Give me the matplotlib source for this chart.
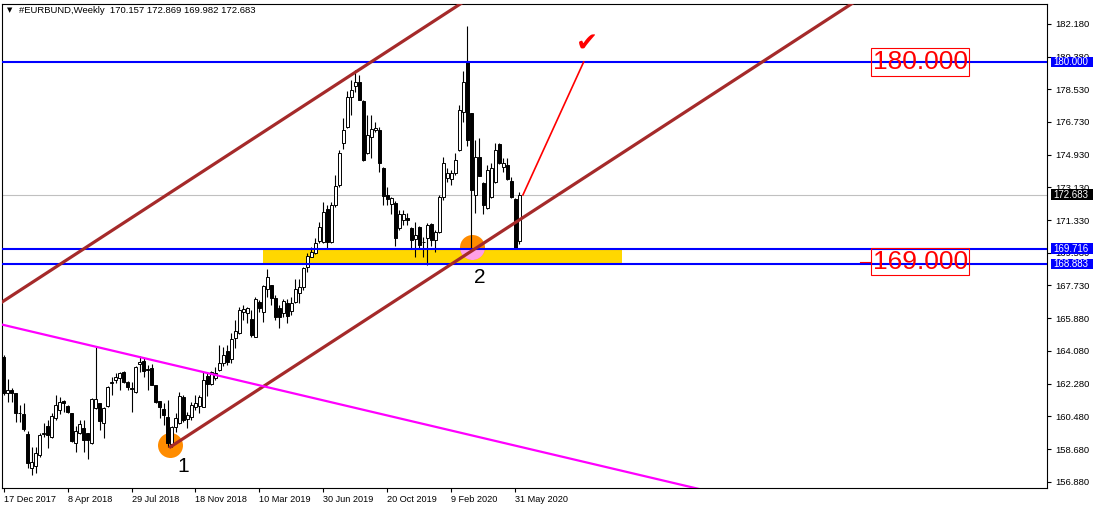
import matplotlib
matplotlib.use("Agg")
import matplotlib.pyplot as plt
import matplotlib.transforms as mtransforms
from matplotlib.patches import Rectangle

# weekly bars, first one is 17 Dec 2017, last one 7 Jun 2020
opens = [163.76, 161.78, 161.94, 161.78, 160.68, 160.62, 159.52, 157.65, 157.76, 158.37,
         159.50, 159.96, 159.36, 160.40, 160.84, 161.34, 161.06, 160.68, 159.03, 159.58,
         159.85, 159.58, 159.03, 160.95, 161.23, 160.13, 161.06, 162.33, 162.50, 162.60,
         162.94, 162.39, 162.05, 161.83, 163.38, 163.54, 163.12, 163.16, 162.22, 161.34,
         160.90, 160.46, 158.97, 159.91, 160.13, 161.56, 160.35, 160.46, 161.01, 161.06,
         161.01, 162.72, 162.28, 162.60, 163.05, 163.43, 164.09, 163.65, 164.80, 165.08,
         166.24, 166.18, 165.85, 164.86, 166.79, 166.24, 167.50, 167.73, 167.01, 166.46,
         166.18, 166.73, 166.29, 166.79, 167.28, 167.61, 168.71, 169.27, 169.49, 170.15,
         170.09, 171.91, 170.09, 172.13, 173.23, 175.54, 176.42, 178.07, 178.68, 178.90,
         177.85, 174.99, 175.87, 176.26, 176.26, 174.16, 172.68, 172.19, 172.24, 170.86,
         171.30, 171.41, 170.86, 170.26, 170.92, 170.10, 170.31, 171.08, 170.20, 170.64,
         172.57, 173.61, 173.56, 173.89, 175.15, 177.25, 180.00, 177.19, 172.68, 174.77,
         173.34, 171.96, 172.57, 173.39, 175.49, 174.22, 174.33, 173.45, 172.46, 170.157]
highs = [163.87, 162.55, 162.05, 161.80, 161.12, 161.23, 159.69, 158.81, 158.81, 159.58,
         160.13, 160.29, 160.68, 161.67, 161.56, 161.39, 161.10, 160.70, 159.96, 160.29,
         160.29, 159.60, 161.50, 164.31, 161.25, 161.00, 162.15, 162.66, 162.88, 162.94,
         163.00, 162.42, 162.39, 163.27, 163.82, 163.70, 163.32, 163.38, 162.25, 161.36,
         161.23, 161.39, 159.95, 160.68, 161.83, 161.67, 160.73, 161.28, 161.67, 161.67,
         162.94, 162.94, 163.00, 163.21, 164.42, 164.31, 164.42, 165.08, 165.80, 166.51,
         166.62, 166.51, 166.35, 167.06, 166.90, 167.73, 168.60, 167.75, 167.17, 166.62,
         166.95, 166.95, 167.06, 168.05, 168.05, 168.71, 169.49, 169.82, 170.31, 171.19,
         172.29, 172.13, 172.29, 173.78, 175.15, 176.92, 178.40, 179.01, 179.56, 179.28,
         177.90, 177.08, 177.08, 176.70, 176.42, 174.20, 173.12, 172.57, 172.35, 171.85,
         171.85, 171.69, 170.90, 171.19, 170.95, 170.37, 171.14, 171.14, 170.75, 172.68,
         174.77, 174.16, 174.05, 174.99, 177.63, 179.50, 181.98, 177.20, 175.71, 175.82,
         173.37, 174.33, 174.44, 175.54, 175.54, 174.71, 174.71, 173.67, 172.50, 172.869]
lows = [161.67, 161.28, 161.28, 160.18, 160.18, 159.69, 157.65, 157.27, 157.38, 158.26,
        159.36, 158.75, 159.30, 160.29, 160.62, 160.73, 160.68, 159.10, 158.53, 159.55,
        158.53, 158.15, 159.00, 160.90, 159.74, 159.30, 161.00, 161.67, 162.33, 161.94,
        162.33, 161.94, 160.73, 161.80, 162.94, 162.66, 161.94, 162.20, 161.25, 160.40,
        160.02, 158.81, 158.81, 159.63, 160.10, 160.18, 159.85, 160.29, 160.84, 160.68,
        161.00, 161.61, 162.20, 162.50, 163.00, 163.27, 163.32, 163.43, 164.26, 165.02,
        165.80, 165.63, 164.86, 164.85, 166.24, 165.69, 167.06, 166.62, 165.80, 165.36,
        165.96, 165.63, 166.07, 166.73, 166.73, 167.45, 168.44, 169.27, 169.43, 170.04,
        170.05, 169.76, 170.05, 172.02, 173.12, 175.21, 176.36, 177.08, 178.35, 177.90,
        174.55, 174.95, 174.71, 176.15, 173.94, 172.13, 172.13, 171.63, 169.87, 170.75,
        171.02, 171.02, 169.70, 169.27, 169.70, 169.27, 168.83, 169.87, 169.54, 170.60,
        172.40, 173.39, 173.23, 173.78, 175.10, 176.70, 175.40, 169.65, 171.69, 173.70,
        171.63, 171.90, 172.50, 173.34, 174.40, 173.94, 173.50, 172.50, 169.70, 169.982]
closes = [161.78, 161.94, 161.78, 160.68, 160.70, 159.80, 157.93, 157.98, 158.48, 159.47,
          159.60, 159.47, 160.51, 161.12, 161.28, 161.23, 160.73, 159.14, 159.69, 160.07,
          159.19, 159.19, 161.45, 161.45, 160.24, 160.95, 162.11, 162.39, 162.66, 162.88,
          162.39, 162.11, 161.98, 163.21, 163.49, 163.00, 163.06, 162.22, 161.28, 161.01,
          160.57, 159.03, 159.91, 160.40, 161.61, 160.29, 160.57, 161.12, 161.23, 161.56,
          162.50, 162.28, 162.94, 162.88, 163.43, 163.87, 163.49, 164.75, 165.19, 166.35,
          166.41, 166.46, 164.97, 166.95, 166.46, 167.67, 168.16, 167.01, 165.96, 165.96,
          166.84, 166.02, 166.73, 167.50, 167.61, 168.66, 169.32, 169.54, 170.04, 170.92,
          171.74, 170.09, 172.13, 173.17, 174.99, 176.26, 178.07, 178.46, 178.90, 177.91,
          174.60, 175.98, 176.31, 176.37, 174.44, 172.62, 172.46, 172.51, 170.31, 171.63,
          171.63, 171.30, 170.20, 170.48, 169.93, 170.09, 171.03, 170.20, 170.64, 172.57,
          174.44, 173.89, 173.89, 174.60, 177.36, 178.90, 175.70, 172.95, 174.77, 173.72,
          172.13, 174.06, 174.16, 175.15, 174.44, 174.44, 173.56, 172.57, 169.76, 172.683]

date_labels = ["17 Dec 2017", "8 Apr 2018", "29 Jul 2018", "18 Nov 2018", "10 Mar 2019",
               "30 Jun 2019", "20 Oct 2019", "9 Feb 2020", "31 May 2020"]
price_labels = ["182.180", "180.380", "178.530", "176.730", "174.930", "173.130", "171.330",
                "169.530", "167.730", "165.880", "164.080", "162.280", "160.480", "158.680",
                "156.880"]

# levels / objects on the chart
level_top = 180.000
level_zone_hi = 169.716
level_zone_lo = 168.883
last_price = 172.683
zone_bars = (65, 154.75)
channel_p1 = (41.75, 158.82)
channel_p2 = (241.75, 187.44)
channel_width = 14.0
magenta_p1 = (-0.25, 165.54)
magenta_p2 = (200, 155.15)
target_line = [(129.9, 172.68), (145.1, 180.0)]
point1 = (41.6, 158.94)
point2 = (117.2, 169.80)

W, H = 1094, 508
fig = plt.figure(figsize=(W / 100, H / 100), dpi=100)
ax = fig.add_axes([2 / W, 20 / H, 1045 / W, 484 / H])
ax.set_xlim(-0.4, 261)
ax.set_ylim(156.555, 183.19)

font = "Liberation Sans"

# background zone
zone = Rectangle((zone_bars[0], level_zone_lo), zone_bars[1] - zone_bars[0],
                 level_zone_hi - level_zone_lo, facecolor="#FFD700", edgecolor="none", zorder=0.5)
ax.add_patch(zone)

# circles at the touch points
ax.scatter([point1[0], point2[0]], [point1[1], point2[1]], s=18 ** 2, color="#FF8C00",
           linewidths=0, zorder=1)
pink = ax.scatter([point2[0]], [point2[1]], s=18 ** 2, color="#FFA0E6", linewidths=0, zorder=1.1)
pink.set_clip_path(zone)

ax.axhline(last_price, color="#C0C0C0", lw=0.8, zorder=1.2)

# candles
x = list(range(len(opens)))
ax.vlines(x, lows, highs, color="black", lw=0.8, zorder=2)
for i in x:
    o, c = opens[i], closes[i]
    bottom = min(o, c)
    height = max(abs(c - o), 0.02)
    face = "white" if c >= o else "black"
    ax.bar(i, height, bottom=bottom, width=0.6, color=face, edgecolor="black",
           linewidth=0.7, zorder=3)

# horizontal levels
for lv in (level_top, level_zone_hi, level_zone_lo):
    ax.axhline(lv, color="#0000FF", lw=1.5, zorder=4)

# channel
slope = (channel_p2[1] - channel_p1[1]) / (channel_p2[0] - channel_p1[0])
ax.plot([channel_p1[0], channel_p2[0]], [channel_p1[1], channel_p2[1]],
        color="#A52A2A", lw=2.3, zorder=4.5)
x0, x1 = -10, 300
ax.plot([x0, x1], [channel_p1[1] + slope * (x0 - channel_p1[0]) + channel_width,
                   channel_p1[1] + slope * (x1 - channel_p1[0]) + channel_width],
        color="#A52A2A", lw=2.3, zorder=4.5)

# magenta trend line
ax.plot([magenta_p1[0], magenta_p2[0]], [magenta_p1[1], magenta_p2[1]],
        color="#FF00FF", lw=1.6, zorder=4.5)

# projected move
ax.plot([p[0] for p in target_line], [p[1] for p in target_line], color="#FF0000", lw=1.2, zorder=4.6)
ax.text(146, 180.95, "\u2714", color="#FF0000", fontsize=19, ha="center", va="center",
        family="DejaVu Sans", zorder=5)

ax.text(45, 157.75, "1", fontsize=15, ha="center", va="center", family=font, zorder=5)
ax.text(119, 168.15, "2", fontsize=15, ha="center", va="center", family=font, zorder=5)

# boxed level labels
for lv, txt in ((180.0, "180.000"), (169.0, "169.000")):
    ax.text(229.25, lv, txt, fontsize=19, color="#FF0000", ha="center", va="center",
            family=font, zorder=6,
            bbox=dict(boxstyle="square,pad=0.06", facecolor="none", edgecolor="#FF0000", lw=0.8))
ax.plot([214.25, 217], [169.0, 169.0], color="#FF0000", lw=0.8, zorder=6)

# axes styling
for s in ax.spines.values():
    s.set_linewidth(0.8)
ax.yaxis.tick_right()
yt = [182.1 - 1.8 * k for k in range(len(price_labels))]
ax.set_yticks(yt)
ax.set_yticklabels(price_labels)
ax.set_xticks([16 * k for k in range(len(date_labels))])
ax.set_xticklabels(date_labels, ha="left")
ax.tick_params(axis="y", direction="out", length=3, width=0.8, pad=3, labelsize=6.8)
ax.tick_params(axis="x", direction="out", length=3, width=0.8, pad=2, labelsize=6.6)
for lab in ax.get_xticklabels() + ax.get_yticklabels():
    lab.set_family(font)

# price tags on the right scale
blend = mtransforms.blended_transform_factory(ax.transAxes, ax.transData)
tags = [(level_top, "#0000FF"), (level_zone_hi, "#0000FF"), (level_zone_lo, "#0000FF"),
        (last_price, "#000000")]
for lv, col in tags:
    ax.add_patch(Rectangle((1.0035, lv - 0.30), 0.0405, 0.60, transform=blend,
                           facecolor=col, edgecolor="none", clip_on=False, zorder=10))
    ax.text(1.006, lv, "%.3f" % lv, transform=blend, color="white", fontsize=7,
            family=font, ha="left", va="center", clip_on=False, zorder=11)

# header
fig.text(10 / W, 1 - 10.5 / H, "\u25bc", fontsize=5, family="DejaVu Sans", ha="center", va="center")
fig.text(19 / W, 1 - 10.5 / H, "#EURBUND,Weekly  170.157 172.869 169.982 172.683",
         fontsize=6.8, family=font, ha="left", va="center")

fig.savefig("out.png", dpi=100)
